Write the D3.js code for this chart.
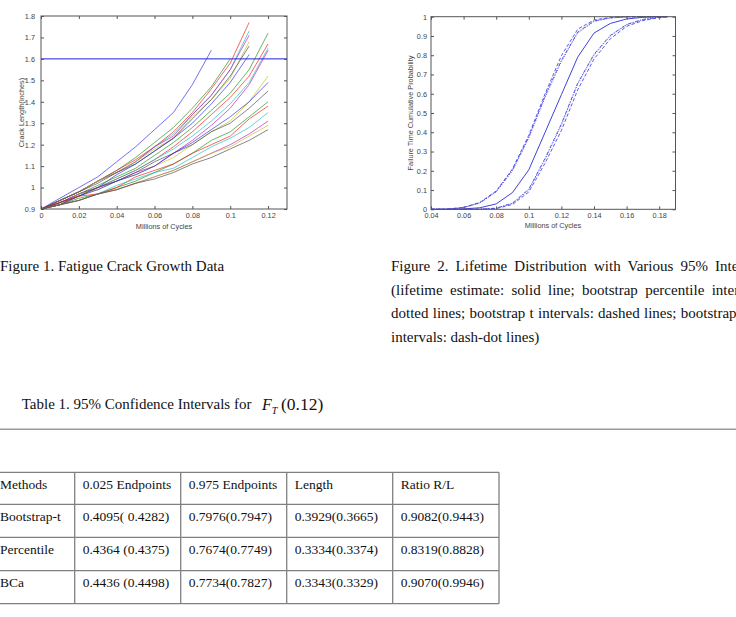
<!DOCTYPE html>
<html lang="en">
<head>
<meta charset="UTF-8">
<title>Fatigue Crack Growth and Lifetime Distribution</title>
<script src="https://d3js.org/d3.v7.min.js"></script>
<style>
  body { margin: 0; background: #fff; }
  svg { display: block; }
  .tick text, .axis-label { font-family: "Liberation Sans", Arial, sans-serif; font-size: 7.3px; fill: #444; }
  .tick line { stroke: #555; }
  .caption { font-family: "Liberation Serif", "Times New Roman", serif; font-size: 15px; fill: #111; }
  .cell { font-family: "Liberation Serif", "Times New Roman", serif; font-size: 13.5px; fill: #111; }
</style>
</head>
<body>
<svg id="page" width="736" height="617"></svg>
<script>
  // Figure 1: crack length paths, one reading every 0.01 million cycles
  const cycles = [0, 0.01, 0.02, 0.03, 0.04, 0.05, 0.06, 0.07, 0.08, 0.09, 0.10, 0.11, 0.12];
  const crackPaths = [
    [0.90, 0.95, 1.00, 1.05, 1.12, 1.19, 1.27, 1.35, 1.48, 1.64],
    [0.90, 0.94, 0.98, 1.03, 1.08, 1.14, 1.21, 1.28, 1.37, 1.47, 1.60],
    [0.90, 0.94, 0.98, 1.03, 1.08, 1.13, 1.19, 1.26, 1.35, 1.46, 1.58, 1.77],
    [0.90, 0.94, 0.98, 1.03, 1.07, 1.12, 1.19, 1.25, 1.34, 1.43, 1.55, 1.73],
    [0.90, 0.94, 0.98, 1.03, 1.07, 1.12, 1.19, 1.24, 1.34, 1.43, 1.55, 1.71],
    [0.90, 0.94, 0.98, 1.03, 1.07, 1.12, 1.18, 1.23, 1.33, 1.41, 1.51, 1.68],
    [0.90, 0.94, 0.98, 1.02, 1.07, 1.11, 1.17, 1.23, 1.32, 1.41, 1.52, 1.66],
    [0.90, 0.93, 0.97, 1.00, 1.06, 1.11, 1.17, 1.23, 1.30, 1.39, 1.49, 1.62],
    [0.90, 0.92, 0.97, 1.01, 1.05, 1.09, 1.15, 1.21, 1.28, 1.36, 1.44, 1.55, 1.72],
    [0.90, 0.92, 0.96, 1.00, 1.04, 1.08, 1.13, 1.19, 1.26, 1.34, 1.42, 1.52, 1.67],
    [0.90, 0.93, 0.96, 1.00, 1.04, 1.08, 1.13, 1.18, 1.24, 1.31, 1.39, 1.49, 1.65],
    [0.90, 0.93, 0.97, 1.00, 1.03, 1.07, 1.10, 1.16, 1.22, 1.29, 1.37, 1.48, 1.64],
    [0.90, 0.92, 0.97, 0.99, 1.03, 1.06, 1.10, 1.14, 1.20, 1.26, 1.31, 1.40, 1.52],
    [0.90, 0.93, 0.96, 1.00, 1.03, 1.07, 1.12, 1.16, 1.20, 1.26, 1.30, 1.37, 1.45],
    [0.90, 0.92, 0.96, 0.99, 1.03, 1.06, 1.10, 1.16, 1.21, 1.27, 1.33, 1.40, 1.49],
    [0.90, 0.92, 0.95, 0.97, 1.00, 1.03, 1.07, 1.11, 1.16, 1.22, 1.26, 1.33, 1.40],
    [0.90, 0.93, 0.96, 0.97, 1.00, 1.05, 1.08, 1.11, 1.16, 1.20, 1.24, 1.32, 1.38],
    [0.90, 0.92, 0.94, 0.97, 1.01, 1.04, 1.07, 1.09, 1.14, 1.19, 1.23, 1.28, 1.35],
    [0.90, 0.92, 0.94, 0.97, 0.99, 1.02, 1.05, 1.08, 1.12, 1.16, 1.20, 1.25, 1.31],
    [0.90, 0.92, 0.94, 0.97, 0.99, 1.02, 1.05, 1.08, 1.12, 1.16, 1.19, 1.24, 1.29],
    [0.90, 0.92, 0.94, 0.97, 0.99, 1.02, 1.04, 1.07, 1.11, 1.14, 1.18, 1.22, 1.27]
  ];
  const failureLevel = 1.6;
  const pathColors = ['#2020f0', '#108a10', '#f01010', '#10bcbc', '#bc10bc', '#bcbc10', '#404040'];
  const fig1XTicks = [0, 0.02, 0.04, 0.06, 0.08, 0.1, 0.12];
  const fig1YTicks = [0.9, 1, 1.1, 1.2, 1.3, 1.4, 1.5, 1.6, 1.7, 1.8];

  // Figure 2: lifetime CDF and interval bands
  const lifeX = [0.04, 0.05, 0.06, 0.07, 0.08, 0.09, 0.10, 0.11, 0.12, 0.13, 0.14, 0.15, 0.16, 0.17, 0.18, 0.185];
  const estimate = [0, 0, 0.002, 0.008, 0.028, 0.087, 0.205, 0.40, 0.595, 0.79, 0.915, 0.965, 0.988, 0.997, 1, 1];
  const pctUpper = [0, 0.001, 0.008, 0.033, 0.09, 0.20, 0.37, 0.58, 0.7674, 0.915, 0.975, 0.993, 0.999, 1, 1, 1];
  const tUpper = [0, 0.001, 0.010, 0.036, 0.095, 0.21, 0.385, 0.60, 0.7976, 0.935, 0.983, 0.996, 1, 1, 1, 1];
  const bcaUpper = [0, 0.001, 0.009, 0.034, 0.092, 0.205, 0.375, 0.59, 0.7734, 0.92, 0.978, 0.994, 0.999, 1, 1, 1];
  const pctLower = [0, 0, 0, 0.001, 0.005, 0.03, 0.10, 0.26, 0.4364, 0.65, 0.80, 0.90, 0.957, 0.985, 0.997, 1];
  const tLower = [0, 0, 0, 0, 0.004, 0.025, 0.09, 0.24, 0.4095, 0.62, 0.78, 0.885, 0.95, 0.98, 0.995, 1];
  const bcaLower = [0, 0, 0, 0.001, 0.006, 0.032, 0.105, 0.265, 0.4436, 0.655, 0.805, 0.903, 0.96, 0.986, 0.997, 1];
  const fig2XTicks = [0.04, 0.06, 0.08, 0.1, 0.12, 0.14, 0.16, 0.18];
  const fig2YTicks = [0, 0.1, 0.2, 0.3, 0.4, 0.5, 0.6, 0.7, 0.8, 0.9, 1];

  // Table 1
  const tableHeader = ['Methods', '0.025 Endpoints', '0.975 Endpoints', 'Length', 'Ratio R/L'];
  const methods = ['Bootstrap-t', 'Percentile', 'BCa'];
  const lowerEnds = ['0.4095( 0.4282)', '0.4364 (0.4375)', '0.4436 (0.4498)'];
  const upperEnds = ['0.7976(0.7947)', '0.7674(0.7749)', '0.7734(0.7827)'];
  const lengths = ['0.3929(0.3665)', '0.3334(0.3374)', '0.3343(0.3329)'];
  const ratios = ['0.9082(0.9443)', '0.8319(0.8828)', '0.9070(0.9946)'];

  const svg = d3.select('#page');
  const fmt = d => String(+d.toFixed(2));

  function drawAxes(g, x, y, xTicks, yTicks, yPad) {
    const [x0, x1] = x.range(), [y0, y1] = y.range();
    g.append('g').attr('transform', `translate(0,${y0})`)
      .call(d3.axisBottom(x).tickValues(xTicks).tickFormat(fmt).tickSizeInner(-3).tickSizeOuter(0).tickPadding(4));
    g.append('g').attr('transform', `translate(0,${y1})`)
      .call(d3.axisTop(x).tickValues(xTicks).tickFormat('').tickSizeInner(-3).tickSizeOuter(0));
    g.append('g').attr('transform', `translate(${x0},0)`)
      .call(d3.axisLeft(y).tickValues(yTicks).tickFormat(fmt).tickSizeInner(-3).tickSizeOuter(0).tickPadding(yPad));
    g.append('g').attr('transform', `translate(${x1},0)`)
      .call(d3.axisRight(y).tickValues(yTicks).tickFormat('').tickSizeInner(-3).tickSizeOuter(0));
    g.selectAll('.domain').remove();
    g.append('rect')
      .attr('x', x0).attr('y', y1)
      .attr('width', x1 - x0).attr('height', y0 - y1)
      .attr('fill', 'none').attr('stroke', '#555').attr('stroke-width', 1);
  }

  // ---- Figure 1 ----
  const x1 = d3.scaleLinear().domain([0, 0.13]).range([41, 287]);
  const y1 = d3.scaleLinear().domain([0.9, 1.8]).range([209, 16]);
  const f1 = svg.append('g');

  const pathLine = d3.line().x((d, i) => x1(cycles[i])).y(d => y1(d));
  f1.selectAll('.crack')
    .data(crackPaths)
    .enter()
    .append('path')
    .attr('class', 'crack')
    .attr('d', pathLine)
    .attr('fill', 'none')
    .attr('stroke', (d, i) => pathColors[i % pathColors.length])
    .attr('stroke-width', 0.8)
    .attr('stroke-opacity', 0.8);

  f1.append('line')
    .attr('x1', x1(0)).attr('x2', x1(0.13))
    .attr('y1', y1(failureLevel)).attr('y2', y1(failureLevel))
    .attr('stroke', '#2020d8').attr('stroke-width', 1);

  drawAxes(f1, x1, y1, fig1XTicks, fig1YTicks, 6);

  f1.append('text').attr('class', 'axis-label')
    .attr('x', 164).attr('y', 228.6).attr('text-anchor', 'middle')
    .text('Millions of Cycles');
  f1.append('text').attr('class', 'axis-label')
    .attr('transform', 'translate(23.5,112.5) rotate(-90)')
    .attr('text-anchor', 'middle')
    .text('Crack Length(inches)');

  // ---- Figure 2 ----
  const x2 = d3.scaleLinear().domain([0.04, 0.19]).range([431, 675.5]);
  const y2 = d3.scaleLinear().domain([0, 1]).range([209.3, 16.7]);
  const f2 = svg.append('g');

  const cdfLine = d3.line().x((d, i) => x2(lifeX[i])).y(d => y2(d));
  const bands = [
    { values: pctUpper, dash: '1,1.6' },
    { values: pctLower, dash: '1,1.6' },
    { values: tUpper, dash: '3.5,2' },
    { values: tLower, dash: '3.5,2' },
    { values: bcaUpper, dash: '3.5,1.5,1,1.5' },
    { values: bcaLower, dash: '3.5,1.5,1,1.5' }
  ];
  f2.selectAll('.band')
    .data(bands)
    .enter()
    .append('path')
    .attr('class', 'band')
    .attr('d', d => cdfLine(d.values))
    .attr('fill', 'none')
    .attr('stroke', '#4a4ae6')
    .attr('stroke-width', 0.9)
    .attr('stroke-dasharray', d => d.dash);

  f2.append('path')
    .attr('d', cdfLine(estimate))
    .attr('fill', 'none')
    .attr('stroke', '#4040e0')
    .attr('stroke-width', 1);

  drawAxes(f2, x2, y2, fig2XTicks, fig2YTicks, 4);

  f2.append('text').attr('class', 'axis-label')
    .attr('x', 553).attr('y', 227.8).attr('text-anchor', 'middle')
    .text('Millions of Cycles');
  f2.append('text').attr('class', 'axis-label')
    .attr('transform', 'translate(412.5,113) rotate(-90)')
    .attr('text-anchor', 'middle')
    .text('Failure Time Cumulative Probability');

  // ---- Captions ----
  svg.append('text').attr('class', 'caption')
    .attr('x', 0).attr('y', 270.7)
    .text('Figure 1. Fatigue Crack Growth Data');

  // justified paragraph that runs past the right edge of the page
  const cap2Lines = [
    'Figure 2. Lifetime Distribution with Various 95% Intervals',
    '(lifetime estimate: solid line; bootstrap percentile intervals:',
    'dotted lines; bootstrap t intervals: dashed lines; bootstrap BCa',
    'intervals: dash-dot lines)'
  ];
  const cap2Width = 376.5;
  cap2Lines.forEach((s, i) => {
    const t = svg.append('text').attr('class', 'caption')
      .attr('x', 391).attr('y', 270.7 + i * 23.8)
      .text(s);
    if (i < cap2Lines.length - 1) {
      const gaps = s.split(' ').length - 1;
      const len = t.node().getComputedTextLength();
      t.attr('word-spacing', Math.max(0, (cap2Width - len) / gaps));
    }
  });

  // ---- Table ----
  svg.append('text').attr('class', 'caption')
    .attr('x', 21.7).attr('y', 409.3)
    .text('Table 1. 95% Confidence Intervals for');
  const ft = svg.append('text')
    .attr('x', 262).attr('y', 410)
    .style('font-family', '"Liberation Serif", "Times New Roman", serif')
    .style('font-size', '16px').style('fill', '#111');
  ft.append('tspan').style('font-style', 'italic').text('F');
  ft.append('tspan').attr('dy', 4).style('font-style', 'italic').style('font-size', '10px').text('T');
  ft.append('tspan').attr('x', 281).attr('dy', -4).style('font-size', '17.5px').text('(0.12)');

  svg.append('line')
    .attr('x1', 0).attr('x2', 736)
    .attr('y1', 429.3).attr('y2', 429.3)
    .attr('stroke', '#999').attr('stroke-width', 1.5);

  const colEdges = [-8, 74.7, 180.7, 286.7, 392.7, 499];
  const rowEdges = [472.3, 504.3, 537.3, 570.7, 603.7];
  const tableRows = [tableHeader].concat(methods.map((m, i) => [m, lowerEnds[i], upperEnds[i], lengths[i], ratios[i]]));

  const tbl = svg.append('g');
  rowEdges.forEach(y => {
    tbl.append('line').attr('x1', colEdges[0]).attr('x2', colEdges[colEdges.length - 1])
      .attr('y1', y).attr('y2', y).attr('stroke', '#808080').attr('stroke-width', 1.3);
  });
  colEdges.forEach(x => {
    tbl.append('line').attr('x1', x).attr('x2', x)
      .attr('y1', rowEdges[0]).attr('y2', rowEdges[rowEdges.length - 1])
      .attr('stroke', '#808080').attr('stroke-width', 1.3);
  });
  tableRows.forEach((row, r) => {
    row.forEach((cell, c) => {
      tbl.append('text').attr('class', 'cell')
        .attr('x', colEdges[c] + 8)
        .attr('y', rowEdges[r] + 16.3)
        .attr('xml:space', 'preserve')
        .text(cell);
    });
  });
</script>
</body>
</html>
